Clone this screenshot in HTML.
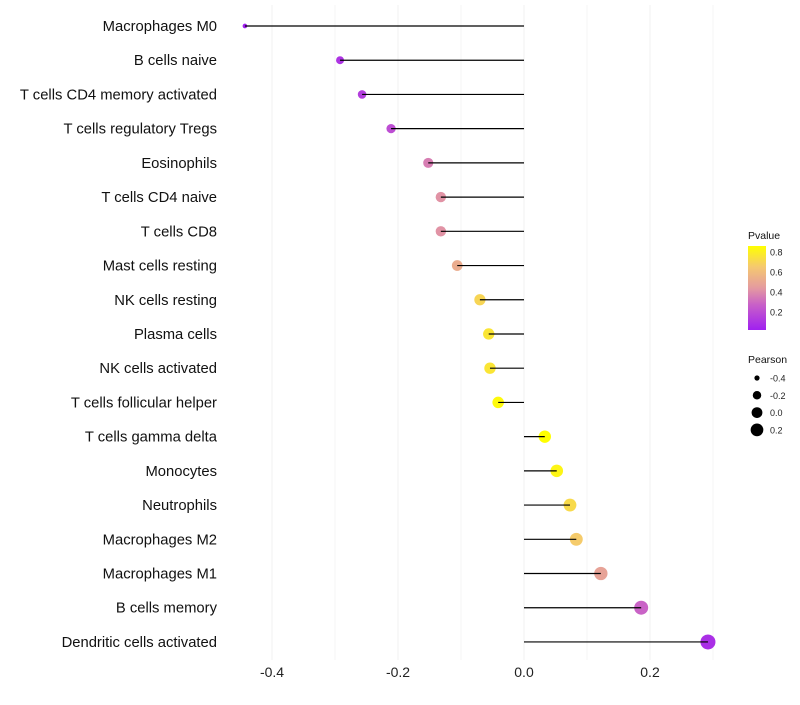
<!DOCTYPE html>
<html><head><meta charset="utf-8"><style>
body{margin:0;background:#fff;}
svg{font-family:"Liberation Sans",sans-serif;}
</style></head><body>
<svg id="chart" width="800" height="700">
<defs><linearGradient id="pg" x1="0" y1="1" x2="0" y2="0">
<stop offset="0" stop-color="#a020f0"/><stop offset="0.3" stop-color="#c860c8"/>
<stop offset="0.5" stop-color="#e49aa0"/><stop offset="0.75" stop-color="#f5c870"/>
<stop offset="1" stop-color="#ffff00"/></linearGradient></defs>
</svg>
<script>
const categories=["Macrophages M0","B cells naive","T cells CD4 memory activated","T cells regulatory  Tregs ","Eosinophils","T cells CD4 naive","T cells CD8","Mast cells resting","NK cells resting","Plasma cells","NK cells activated","T cells follicular helper","T cells gamma delta","Monocytes","Neutrophils","Macrophages M2","Macrophages M1","B cells memory","Dendritic cells activated"];
const pearson=[-0.443,-0.292,-0.257,-0.211,-0.152,-0.132,-0.132,-0.106,-0.070,-0.056,-0.054,-0.041,0.033,0.052,0.073,0.083,0.122,0.186,0.292];
const pvalue=[0.02,0.1,0.14,0.2,0.36,0.42,0.42,0.52,0.7,0.76,0.76,0.84,0.9,0.82,0.72,0.66,0.48,0.28,0.08];
const xTicks=[-0.4,-0.2,0.0,0.2];
const pTicks=[0.2,0.4,0.6,0.8];
const sizeTicks=[-0.4,-0.2,0.0,0.2];
const NS="http://www.w3.org/2000/svg";
const svg=document.getElementById("chart");
const x=v=>524+v*630;
const y=i=>26+i*34.22;
const r=v=>Math.max(2,Math.sqrt(Math.max(0,36+69*v)));
const stops=[[0,[160,32,240]],[0.3,[200,96,200]],[0.5,[228,154,160]],[0.75,[245,200,112]],[1,[255,255,0]]];
function pcol(p){let t=(p-0.02)/(0.86-0.02);t=Math.min(1,Math.max(0,t));
 for(let k=1;k<stops.length;k++){if(t<=stops[k][0]){const a=stops[k-1],b=stops[k];const f=(t-a[0])/(b[0]-a[0]);
 const c=a[1].map((u,j)=>Math.round(u+(b[1][j]-u)*f));return `rgb(${c})`;}}return "rgb(255,255,0)";}
function mk(tag,at,txt){const e=document.createElementNS(NS,tag);for(const k in at)e.setAttribute(k,at[k]);if(txt!==undefined)e.textContent=txt;svg.appendChild(e);return e;}
for(let k=-4;k<=3;k++){const v=k/10;const g=mk("line",{x1:x(v),x2:x(v),y1:5,y2:660,stroke:"#f0f0f0","stroke-width":k%2===0?1:0.6});

}
xTicks.forEach(t=>{const e=mk("text",{x:x(t),y:677,"text-anchor":"middle","font-size":14,fill:"#222"},t.toFixed(1));

});
categories.forEach((c,i)=>{
 const l=mk("text",{x:217,y:y(i)+5,"text-anchor":"end","font-size":14.8,fill:"#111","xml:space":"preserve"},c);
 
 
 const d=mk("circle",{cx:x(pearson[i]),cy:y(i),r:r(pearson[i]),fill:pcol(pvalue[i])});
 
 
 const s=mk("line",{x1:x(0),x2:x(pearson[i]),y1:y(i),y2:y(i),stroke:"#000","stroke-width":1.2});
 
 
});
const lt=mk("text",{x:748,y:239,"font-size":10.5,fill:"#111"},"Pvalue");


const bar=mk("rect",{x:748,y:246,width:18,height:84,fill:"url(#pg)"});


pTicks.forEach(p=>{const yy=332-p*100;
 const t=mk("text",{x:770,y:yy+3.5,"font-size":9,fill:"#222"},p.toFixed(1));
 
 });
const st=mk("text",{x:748,y:363,"font-size":10.5,fill:"#111"},"Pearson");


sizeTicks.forEach((v,k)=>{const yy=378+k*17.3;
 const c=mk("circle",{cx:757,cy:yy,r:r(v)*0.9,fill:"#000"});
 
 
 const t=mk("text",{x:770,y:yy+3.5,"font-size":9,fill:"#222"},v.toFixed(1));
 
 });
</script>
</body></html>
